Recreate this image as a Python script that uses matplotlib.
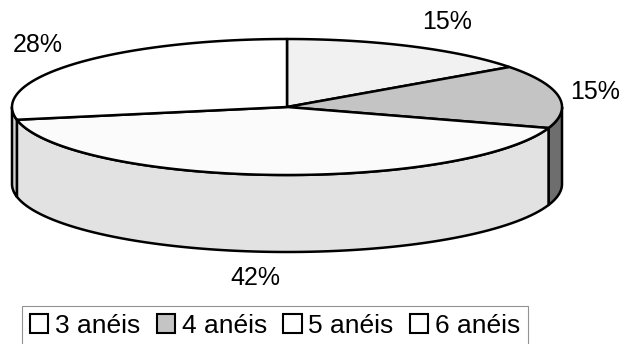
import numpy as np
import matplotlib
matplotlib.use("Agg")
import matplotlib.pyplot as plt
from matplotlib.patches import Polygon, Patch

categories = ["3 anéis", "4 anéis", "5 anéis", "6 anéis"]
values = [15, 15, 42, 28]

top_colors = ["#f1f1f1", "#c4c4c4", "#fbfbfb", "#ffffff"]
side_colors = ["#dedede", "#6e6e6e", "#e2e2e2", "#d0d0d0"]
legend_colors = ["#ffffff", "#c4c4c4", "#ffffff", "#ffffff"]

plt.rcParams["font.family"] = ["Liberation Sans", "DejaVu Sans"]

W, H = 624, 344
fig = plt.figure(figsize=(W / 100, H / 100), dpi=100)
ax = fig.add_axes([0, 0, 1, 1])
ax.set_xlim(0, W)
ax.set_ylim(H, 0)
ax.axis("off")

cx, cy, a, b, depth = 287, 107, 275, 68, 77


def pt(theta_deg, dy=0.0):
    t = np.radians(theta_deg)
    return cx + a * np.sin(t), cy - b * np.cos(t) + dy


total = float(sum(values))
bounds = np.concatenate([[0], np.cumsum(values) / total * 360.0])

# side faces (front half: 90..270 deg clockwise from top)
for i in range(len(values)):
    s, e = max(bounds[i], 90), min(bounds[i + 1], 270)
    if e <= s:
        continue
    th = np.linspace(s, e, 80)
    topx, topy = pt(th)
    botx, boty = pt(th[::-1], depth)
    poly = np.column_stack([np.concatenate([topx, botx]), np.concatenate([topy, boty])])
    ax.add_patch(Polygon(poly, closed=True, facecolor=side_colors[i],
                         edgecolor="black", linewidth=1.8, joinstyle="round", zorder=2))

# top faces
for i in range(len(values)):
    th = np.linspace(bounds[i], bounds[i + 1], 120)
    x, y = pt(th)
    poly = np.column_stack([np.concatenate([[cx], x]), np.concatenate([[cy], y])])
    ax.add_patch(Polygon(poly, closed=True, facecolor=top_colors[i],
                         edgecolor="black", linewidth=1.8, joinstyle="round", zorder=3))

# percentage labels
for i, v in enumerate(values):
    mid = (bounds[i] + bounds[i + 1]) / 2
    t = np.radians(mid)
    lx = cx + 312 * np.sin(t)
    if np.cos(t) < 0:
        ly = cy - 90 * np.cos(t) + depth
    else:
        ly = cy - 95 * np.cos(t)
    if i == 0:
        lx += 18
    if i == 2:
        lx -= 12
        ly += 4
    if i == 3:
        lx -= 9
        ly -= 1
    ax.text(lx, ly, f"{v}%", fontsize=18, ha="center", va="center", zorder=5)

handles = [Patch(facecolor=c, edgecolor="black", linewidth=1.5) for c in legend_colors]
leg = fig.legend(handles, categories, loc="upper left", bbox_to_anchor=(22 / W, 1 - 306 / H),
                 ncol=4, frameon=True, fontsize=19, handlelength=0.7, handleheight=0.7,
                 handletextpad=0.25, columnspacing=0.62, borderpad=0.3, borderaxespad=0,
                 fancybox=False)
leg.get_frame().set_edgecolor("#777777")
leg.get_frame().set_linewidth(0.8)

fig.savefig("out.png", dpi=100)
